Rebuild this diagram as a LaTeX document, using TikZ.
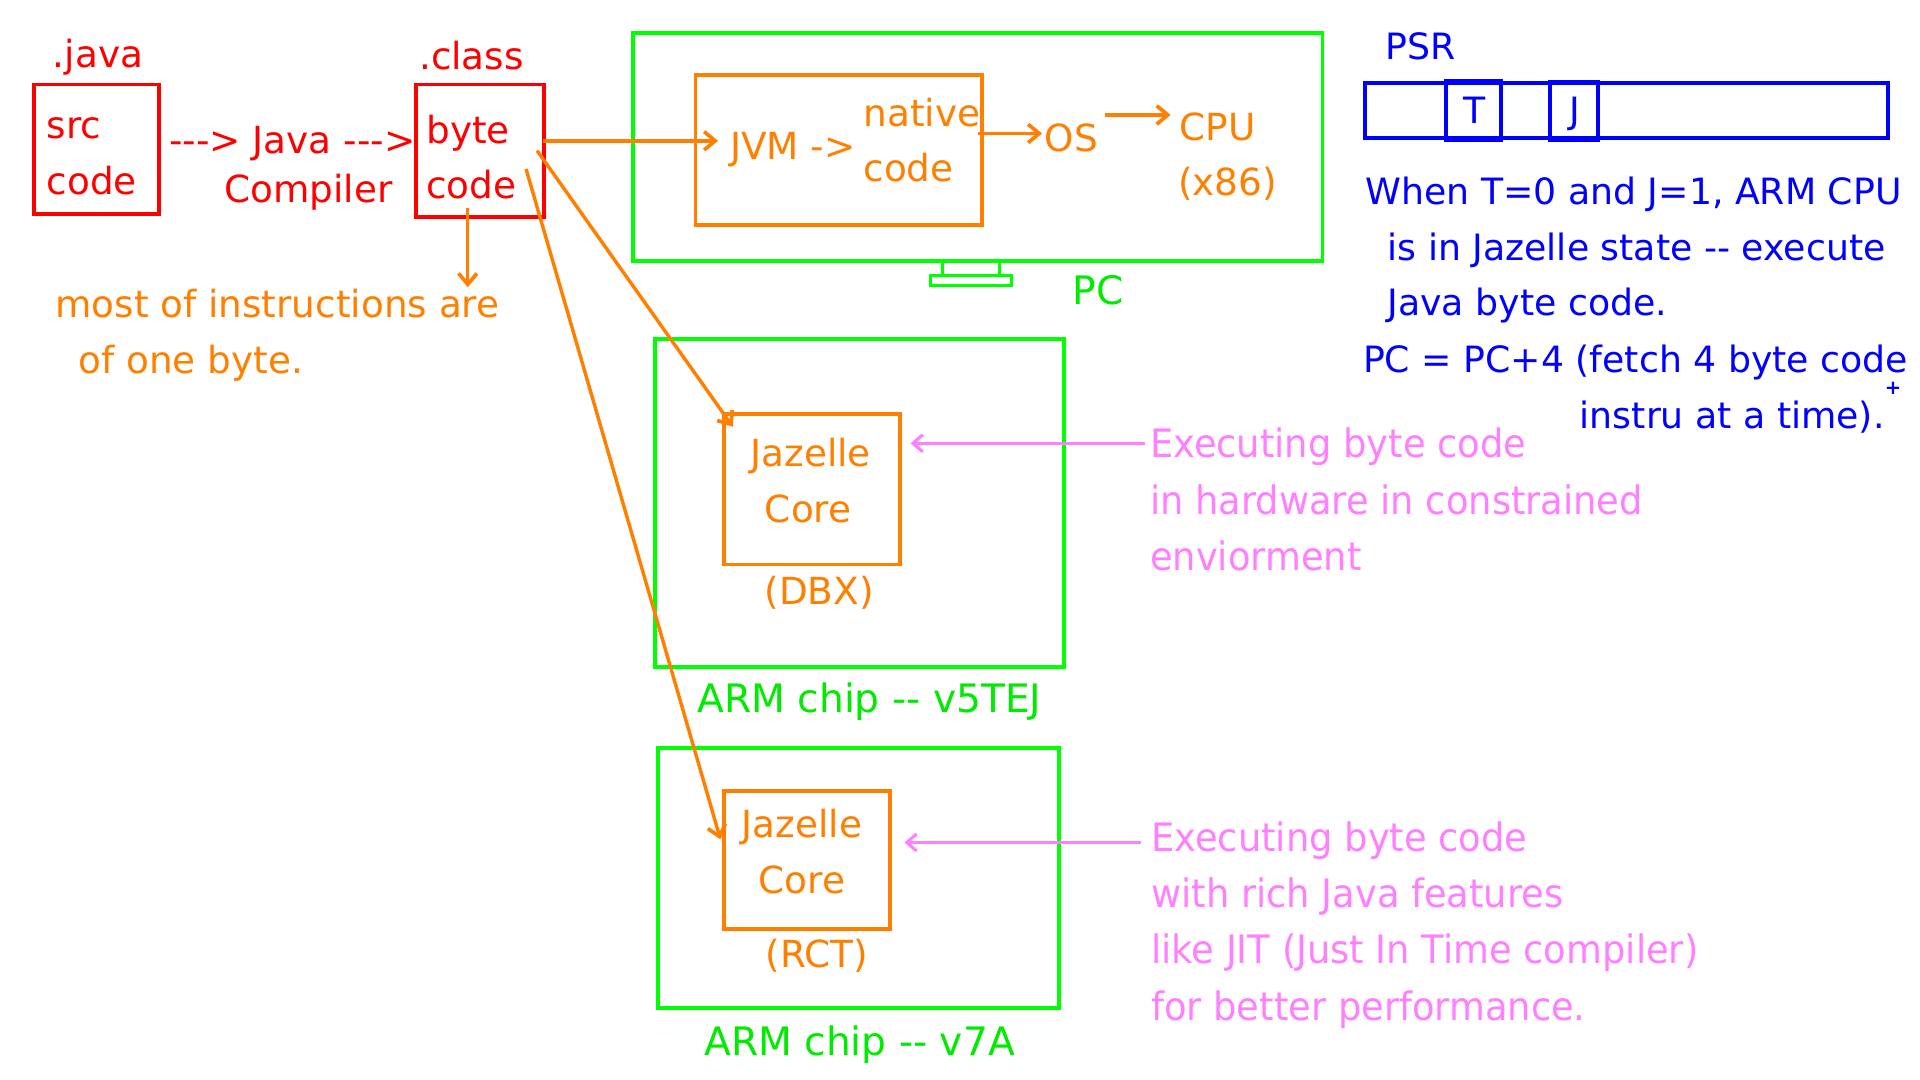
\documentclass[tikz,border=0pt]{standalone}
\usepackage{fontspec}
\newfontfamily\cf{DejaVu Sans}
\newfontfamily\cfn[FakeStretch=0.94]{DejaVu Sans}
\usetikzlibrary{arrows.meta}
\definecolor{cred}{RGB}{255,0,0}
\definecolor{corange}{RGB}{255,128,0}
\definecolor{cgreen}{RGB}{0,255,0}
\definecolor{cgtext}{RGB}{0,235,0}
\definecolor{cblue}{RGB}{0,0,255}
\definecolor{cpink}{RGB}{255,128,255}
\begin{document}
\begin{tikzpicture}[x=1pt,y=-1pt,
  box/.style={draw, line width=3.2pt, inner sep=0pt, rectangle},
  txt/.style={inner sep=0pt, font=\cf\fontsize{30.5}{36}\selectfont},
  btxt/.style={inner sep=0pt, text=cblue, font=\cf\fontsize{29.6}{36}\selectfont},
  ptxt/.style={inner sep=0pt, text=cpink, font=\cfn\fontsize{32}{38}\selectfont},
  gtxt/.style={inner sep=0pt, text=cgtext, font=\cf\fontsize{32}{38}\selectfont},
  oarrow/.style={draw=corange, line width=2.8pt, -{Straight Barb[length=9pt,width=15pt,line width=3pt]}},
  parrow/.style={draw=cpink, line width=2.6pt, -{Straight Barb[length=8pt,width=14pt,line width=2.6pt]}}
]
\fill[white] (0,0) rectangle (1568,882);
\useasboundingbox (0,0) rectangle (1568,882);

% ---------- boxes ----------
\node[box, draw=cred, minimum width=102pt, minimum height=106pt] (src) at (79,122) {};
\node[box, draw=cred, minimum width=104pt, minimum height=108pt] (bc) at (392,123) {};
\node[box, draw=cgreen, minimum width=563pt, minimum height=186pt] (pc) at (798.5,120) {};
\node[box, draw=corange, minimum width=234pt, minimum height=123pt] (jvm) at (685,122.5) {};
\node[box, draw=cgreen, line width=2.6pt, minimum width=46pt, minimum height=12pt] (neck) at (793,219) {};
\node[box, draw=cgreen, line width=2.6pt, minimum width=66pt, minimum height=8pt] (base) at (793,229) {};
\node[box, draw=cblue, minimum width=427pt, minimum height=45pt] (psr) at (1328.5,90.5) {};
\node[box, draw=cblue, minimum width=45pt, minimum height=48pt] (tbit) at (1203.5,90) {};
\node[box, draw=cblue, minimum width=39pt, minimum height=47pt] (jbit) at (1285.5,90.5) {};
\node[box, draw=cgreen, minimum width=334pt, minimum height=268pt] (arm5) at (702,411) {};
\node[box, draw=corange, minimum width=144pt, minimum height=123pt] (jz1) at (663,399.5) {};
\node[box, draw=cgreen, minimum width=328pt, minimum height=212pt] (arm7) at (701,717) {};
\node[box, draw=corange, minimum width=136pt, minimum height=113pt] (jz2) at (659,702.5) {};

% ---------- red texts ----------
\node[txt, text=cred, anchor=base] (javal) at (80,55) {.java};
\node[txt, text=cred, anchor=base west] (src1) at (38,113) {src};
\node[txt, text=cred, anchor=base west] (src2) at (38,159) {code};
\node[txt, text=cred, anchor=base west] (jc1) at (138,125) {--->\ Java --->};
\node[txt, text=cred, anchor=base west] (jc2) at (183,165) {Compiler};
\node[txt, text=cred, anchor=base] (clsl) at (385,57) {.class};
\node[txt, text=cred, anchor=base west] (bc1) at (348,117) {byte};
\node[txt, text=cred, anchor=base west] (bc2) at (348,162) {code};

% ---------- orange texts ----------
\node[txt, text=corange, anchor=base west] (most1) at (45,259) {most of instructions are};
\node[txt, text=corange, anchor=base west] (most2) at (64,305) {of one byte.};
\node[txt, text=corange, anchor=base west] (jvmt) at (596,130) {JVM ->};
\node[txt, text=corange, anchor=base west] (nat1) at (705,103) {native};
\node[txt, text=corange, anchor=base west] (nat2) at (705,148) {code};
\node[txt, text=corange, anchor=base west] (os) at (853,124) {OS};
\node[txt, text=corange, anchor=base west] (cpu1) at (963,115) {CPU};
\node[txt, text=corange, anchor=base west] (cpu2) at (962,160) {(x86)};
\node[txt, text=corange, anchor=base] (jz1a) at (662,381) {Jazelle};
\node[txt, text=corange, anchor=base] (jz1b) at (660,427) {Core};
\node[txt, text=corange, anchor=base] (dbx) at (669,494) {(DBX)};
\node[txt, text=corange, anchor=base] (jz2a) at (655,684) {Jazelle};
\node[txt, text=corange, anchor=base] (jz2b) at (655,730) {Core};
\node[txt, text=corange, anchor=base] (rct) at (667,790) {(RCT)};

% ---------- green texts ----------
\node[gtxt, anchor=base] (pcl) at (897,249) {PC};
\node[gtxt, anchor=base] (arm5l) at (710,582) {ARM chip -- v5TEJ};
\node[gtxt, anchor=base] (arm7l) at (702,862) {ARM chip -- v7A};

% ---------- blue texts ----------
\node[btxt, anchor=base] (psrl) at (1160,49) {PSR};
\node[btxt, anchor=base] (tl) at (1204,101) {T};
\node[btxt, anchor=base] (jl) at (1286,101) {J};
\node[btxt, anchor=base west] (b1) at (1115,167) {When T=0 and J=1, ARM CPU};
\node[btxt, anchor=base west] (b2) at (1133,213) {is in Jazelle state -- execute};
\node[btxt, anchor=base west] (b3) at (1133,258) {Java byte code.};
\node[btxt, anchor=base west] (b4) at (1113,304) {PC = PC+4 (fetch 4 byte code};
\node[btxt, anchor=base west] (b5) at (1290,350) {instru at a time).};
\node[inner sep=0pt, text=cblue, font=\cf\bfseries\fontsize{16}{18}\selectfont] (plus) at (1546,317) {+};

% ---------- pink texts ----------
\node[ptxt, anchor=base west] (p1a) at (939,374) {Executing byte code};
\node[ptxt, anchor=base west] (p1b) at (939,420) {in hardware in constrained};
\node[ptxt, anchor=base west] (p1c) at (939,466) {enviorment};
\node[ptxt, anchor=base west] (p2a) at (940,695) {Executing byte code};
\node[ptxt, anchor=base west] (p2b) at (940,741) {with rich Java features};
\node[ptxt, anchor=base west] (p2c) at (940,787) {like JIT (Just In Time compiler)};
\node[ptxt, anchor=base west] (p2d) at (940,833) {for better performance.};

% ---------- connectors ----------
\coordinate (bcout) at ([xshift=-2pt,yshift=8pt]bc.east);
\coordinate (jvmin) at ([xshift=20pt,yshift=7.5pt]jvm.west);
\draw[oarrow] (bcout) -- (jvmin);
\coordinate (bcdown1) at ([xshift=-10pt,yshift=9pt]bc.south);
\coordinate (bcdown2) at ([xshift=-10pt,yshift=-56pt]bc.south);
\draw[oarrow] (bcdown1) -- (bcdown2);
\coordinate (natout) at ([xshift=-5pt,yshift=13.5pt]jvm.east);
\coordinate (osin) at ([xshift=-2pt]natout -| os.west);
\draw[oarrow] (natout) -- (osin);
\coordinate (osout) at ([xshift=6pt,yshift=19pt]os.east);
\coordinate (cpuin) at ([xshift=-7pt]osout -| cpu1.west);
\draw[oarrow] (osout) -- (cpuin);
\coordinate (bcd1) at ([xshift=-7pt]bc.east);
\coordinate (jz1in) at ([xshift=9pt,yshift=-12pt]jz1.north west);
\draw[oarrow] (bcd1) -- (jz1in);
\coordinate (bcd2) at ([xshift=-16pt,yshift=-15pt]bc.east);
\coordinate (jz2in) at ([xshift=-1pt,yshift=17pt]jz2.west);
\draw[oarrow] (bcd2) -- (jz2in);
\draw[parrow] ([xshift=-4pt,yshift=12pt]p1a.base west) -- ([xshift=7pt,yshift=37.5pt]jz1.east);
\draw[parrow] ([xshift=-8pt,yshift=7pt]p2a.base west) -- ([xshift=10pt,yshift=14.5pt]jz2.east);
\end{tikzpicture}
\end{document}
